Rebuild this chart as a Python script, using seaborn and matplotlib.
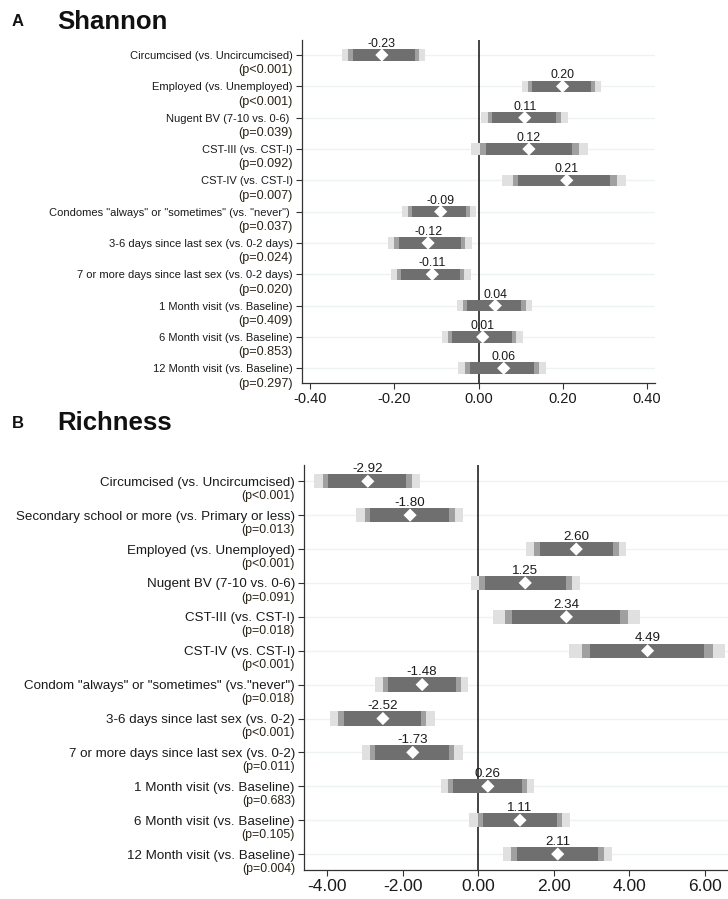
import matplotlib
matplotlib.use("Agg")
import matplotlib.pyplot as plt
import seaborn as sns
import pandas as pd

sns.set_style("white")
plt.rcParams['font.family'] = ['Liberation Sans', 'DejaVu Sans']

# ---- Panel A: Shannon ----
shannon_labels = [
    'Circumcised (vs. Uncircumcised)',
    'Employed (vs. Unemployed)',
    'Nugent BV (7-10 vs. 0-6) ',
    'CST-III (vs. CST-I)',
    'CST-IV (vs. CST-I)',
    'Condomes "always" or "sometimes" (vs. "never") ',
    '3-6 days since last sex (vs. 0-2 days)',
    '7 or more days since last sex (vs. 0-2 days)',
    '1 Month visit (vs. Baseline)',
    '6 Month visit (vs. Baseline)',
    '12 Month visit (vs. Baseline)',
]
shannon_p = ['(p<0.001)', '(p<0.001)', '(p=0.039)', '(p=0.092)', '(p=0.007)', '(p=0.037)',
             '(p=0.024)', '(p=0.020)', '(p=0.409)', '(p=0.853)', '(p=0.297)']
shannon_est = [-0.23, 0.20, 0.11, 0.12, 0.21, -0.09, -0.12, -0.11, 0.04, 0.01, 0.06]
shannon_lo99 = [-0.326, 0.103, 0.006, -0.019, 0.057, -0.181, -0.215, -0.209, -0.051, -0.087, -0.049]
shannon_hi99 = [-0.127, 0.291, 0.212, 0.260, 0.352, -0.006, -0.016, -0.019, 0.128, 0.105, 0.160]
shannon_lo95 = [-0.311, 0.117, 0.022, 0.003, 0.081, -0.168, -0.200, -0.194, -0.038, -0.072, -0.032]
shannon_hi95 = [-0.141, 0.277, 0.196, 0.238, 0.329, -0.020, -0.032, -0.034, 0.113, 0.090, 0.143]
shannon_lo90 = [-0.299, 0.128, 0.033, 0.017, 0.095, -0.158, -0.189, -0.184, -0.028, -0.062, -0.021]
shannon_hi90 = [-0.152, 0.267, 0.185, 0.223, 0.314, -0.029, -0.042, -0.044, 0.102, 0.080, 0.132]
shannon_ticks = [-0.40, -0.20, 0.00, 0.20, 0.40]

# ---- Panel B: Richness ----
rich_labels = [
    'Circumcised (vs. Uncircumcised)',
    'Secondary school or more (vs. Primary or less)',
    'Employed (vs. Unemployed)',
    'Nugent BV (7-10 vs. 0-6)',
    'CST-III (vs. CST-I)',
    'CST-IV (vs. CST-I)',
    'Condom "always" or "sometimes" (vs."never")',
    '3-6 days since last sex (vs. 0-2)',
    '7 or more days since last sex (vs. 0-2)',
    '1 Month visit (vs. Baseline)',
    '6 Month visit (vs. Baseline)',
    '12 Month visit (vs. Baseline)',
]
rich_p = ['(p<0.001)', '(p=0.013)', '(p<0.001)', '(p=0.091)', '(p=0.018)', '(p<0.001)',
          '(p=0.018)', '(p<0.001)', '(p=0.011)', '(p=0.683)', '(p=0.105)', '(p=0.004)']
rich_est = [-2.92, -1.80, 2.60, 1.25, 2.34, 4.49, -1.48, -2.52, -1.73, 0.26, 1.11, 2.11]
rich_lo99 = [-4.34, -3.23, 1.28, -0.20, 0.40, 2.42, -2.72, -3.92, -3.07, -0.98, -0.23, 0.66]
rich_hi99 = [-1.54, -0.40, 3.91, 2.70, 4.28, 6.54, -0.27, -1.15, -0.41, 1.49, 2.44, 3.55]
rich_lo95 = [-4.12, -3.00, 1.49, 0.03, 0.71, 2.75, -2.53, -3.70, -2.86, -0.79, -0.01, 0.88]
rich_hi95 = [-1.74, -0.61, 3.72, 2.48, 3.97, 6.23, -0.46, -1.38, -0.63, 1.30, 2.22, 3.33]
rich_lo90 = [-3.97, -2.86, 1.63, 0.18, 0.91, 2.96, -2.39, -3.56, -2.72, -0.66, 0.12, 1.04]
rich_hi90 = [-1.91, -0.77, 3.58, 2.32, 3.77, 5.99, -0.58, -1.51, -0.76, 1.17, 2.09, 3.18]
rich_ticks = [-4.00, -2.00, 0.00, 2.00, 4.00, 6.00]

C_LIGHT, C_MID, C_DARK = '#e0e0e0', '#a0a0a0', '#6f6f6f'
TXT = '#1a1a1a'


def forest(ax, labels, pvals, est, lo99, hi99, lo95, hi95, lo90, hi90, xlim, ticks,
           bar_h, lab_fs, p_fs, val_fs, tick_fs, val_off, p_off, lab_fs_special=None):
    n = len(labels)
    df = pd.DataFrame({'pos': range(n), 'est': est})
    for y in range(n):
        ax.axhline(y, color='#edf3f5', lw=1.0, zorder=0)
    # three nested intervals, widest (lightest) first
    for lo, hi, col, z in [(lo99, hi99, C_LIGHT, 2), (lo95, hi95, C_MID, 3), (lo90, hi90, C_DARK, 4)]:
        ax.barh(df['pos'], [h - l for l, h in zip(lo, hi)], left=lo, height=bar_h,
                color=col, edgecolor='none', linewidth=0, zorder=z)
    ax.axvline(0, color='#111111', lw=1.1, zorder=1)
    sns.scatterplot(data=df, x='est', y='pos', marker='D', s=45, color='white',
                    edgecolor='none', zorder=5, ax=ax, legend=False)
    for y, v in enumerate(est):
        ax.annotate(f'{v:.2f}', xy=(v, y), xytext=(0, val_off), textcoords='offset points',
                    ha='center', va='bottom', fontsize=val_fs, color=TXT)
    ax.set_xlim(*xlim)
    ax.set_ylim(n - 0.53, -0.48)
    ax.set_yticks(range(n))
    ax.set_yticklabels(labels, fontsize=lab_fs, color=TXT)
    if lab_fs_special:
        for i, fs in lab_fs_special.items():
            ax.get_yticklabels()[i].set_fontsize(fs)
    ax.set_xticks(ticks)
    ax.set_xticklabels([f'{t:.2f}' for t in ticks], fontsize=tick_fs, color=TXT)
    ax.tick_params(axis='both', direction='out', length=4.5, width=0.8, color='#333333',
                   left=True, bottom=True, pad=2)
    for y, p in enumerate(pvals):
        ax.annotate(p, xy=(0, y), xycoords=ax.get_yaxis_transform(), xytext=(-6.5, p_off),
                    textcoords='offset points', ha='right', va='center',
                    fontsize=p_fs, color='#2a2418')
    for s in ['top', 'right']:
        ax.spines[s].set_visible(False)
    for s in ['left', 'bottom']:
        ax.spines[s].set_color('#333333')
        ax.spines[s].set_linewidth(0.9)
    ax.set_xlabel('')
    ax.set_ylabel('')


fig = plt.figure(figsize=(7.28, 8.99), dpi=100)

axA = fig.add_axes([302 / 728, 1 - 383 / 899, 353 / 728, 343 / 899])
forest(axA, shannon_labels, shannon_p, shannon_est, shannon_lo99, shannon_hi99,
       shannon_lo95, shannon_hi95, shannon_lo90, shannon_hi90,
       (-0.42, 0.42), shannon_ticks, bar_h=0.37, lab_fs=8.0, p_fs=9.1, val_fs=8.9,
       tick_fs=10.5, val_off=3.5, p_off=-11, lab_fs_special={7: 8.0})

axB = fig.add_axes([304 / 728, 1 - 870 / 899, 424 / 728, 405 / 899])
forest(axB, rich_labels, rich_p, rich_est, rich_lo99, rich_hi99,
       rich_lo95, rich_hi95, rich_lo90, rich_hi90,
       (-4.61, 6.62), rich_ticks, bar_h=0.42, lab_fs=9.6, p_fs=8.9, val_fs=9.6,
       tick_fs=12.5, val_off=4.5, p_off=-10.5)

fig.text(12 / 728, 1 - 22 / 899, 'A', fontsize=12, fontweight='bold', va='center', color='#111111')
fig.text(57 / 728, 1 - 22 / 899, 'Shannon', fontsize=18.5, fontweight='bold', va='center', color='#111111')
fig.text(12 / 728, 1 - 423 / 899, 'B', fontsize=12, fontweight='bold', va='center', color='#111111')
fig.text(57 / 728, 1 - 423 / 899, 'Richness', fontsize=18.5, fontweight='bold', va='center', color='#111111')

fig.savefig('out.png', dpi=100)
